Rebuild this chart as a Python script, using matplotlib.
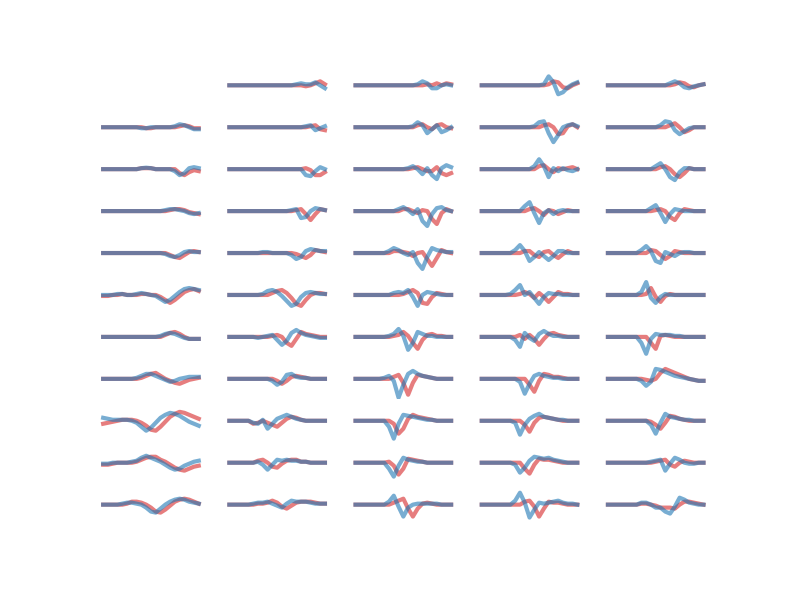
import numpy as np
import matplotlib
matplotlib.use("Agg")
import matplotlib.pyplot as plt

# sample positions along each trace
x = np.arange(21)

# traces per row, one entry per column (None = empty cell)
blue_r0 = [None,
           [0,0,0,0,0,0,0,0,0,0,0,0,0,0,1,2,1,1,3,0,-3],
           [0,0,0,0,0,0,0,0,0,0,0,0,0,1,4,2,-3,-3,0,1,0],
           [0,0,0,0,0,0,0,0,0,0,0,0,0,1,9,3,-9,-7,-2,1,3],
           [0,0,0,0,0,0,0,0,0,0,0,0,0,2,4,2,-2,-3,-1,0,1]]
red_r0 = [None,
          [0,0,0,0,0,0,0,0,0,0,0,0,0,0,0,0,-1,0,2,4,1],
          [0,0,0,0,0,0,0,0,0,0,0,0,0,0,0,1,0,2,0,2,1],
          [0,0,0,0,0,0,0,0,0,0,0,0,0,0,1,4,3,-2,-3,0,2],
          [0,0,0,0,0,0,0,0,0,0,0,0,0,0,1,3,2,-1,-2,0,1]]

blue_r1 = [[0,0,0,0,0,0,0,0,-1,-1,0,0,0,0,0,1,3,2,0,-2,-2],
           [0,0,0,0,0,0,0,0,0,0,0,0,0,0,0,0,1,2,-3,-1,1],
           [0,0,0,0,0,0,0,0,0,0,0,0,1,5,2,-6,-2,2,-5,-3,0],
           [0,0,0,0,0,0,0,0,0,0,0,1,5,6,-6,-15,-8,0,2,3,1],
           [0,0,0,0,0,0,0,0,0,0,0,2,6,5,-3,-7,-4,-1,0,0,0]]
red_r1 = [[0,0,0,0,0,0,0,0,0,-1,-1,0,0,0,0,0,1,2,1,-1,-1],
          [0,0,0,0,0,0,0,0,0,0,0,0,0,0,0,0,0,1,2,-2,-3],
          [0,0,0,0,0,0,0,0,0,0,0,0,0,2,3,0,-2,2,3,0,-1],
          [0,0,0,0,0,0,0,0,0,0,0,0,0,2,3,0,-7,-6,1,3,0],
          [0,0,0,0,0,0,0,0,0,0,0,0,0,2,4,0,-5,-3,0,0,0]]

blue_r2 = [[0,0,0,0,0,0,0,0,1,1.5,1,0,0,0,0,-2,-6,-4,1,2,1],
           [0,0,0,0,0,0,0,0,0,0,0,0,0,0,0,0,-6,-7,-2,2,0],
           [0,0,0,0,0,0,0,0,0,0,0,1,3,0,-5,1,-6,-10,1,4,2],
           [0,0,0,0,0,0,0,0,0,0,0,3,10,3,-8,1,-2,1,-1,-2,0],
           [0,0,0,0,0,0,0,0,0,0,3,6,0,-8,-11,-3,1,1,0,0,0]]
red_r2 = [[0,0,0,0,0,0,0,0,1,1,1,0,0,0,0,0,-4,-6,-3,-1,-2],
          [0,0,0,0,0,0,0,0,0,0,0,0,0,0,0,0,1,-1,-6,-6,-3],
          [0,0,0,0,0,0,0,0,0,0,0,0,1,2,0,-2,-2,2,-4,-6,-4],
          [0,0,0,0,0,0,0,0,0,0,0,0,3,4,0,-3,1,0,1,2,0],
          [0,0,0,0,0,0,0,0,0,0,0,2,3,0,-5,-8,-4,1,0,0,0]]

blue_r3 = [[0,0,0,0,0,0,0,0,0,0,0,0,0,1,2,2,1,0,-2,-3,-2],
           [0,0,0,0,0,0,0,0,0,0,0,0,0,1,2,-7,-6,0,3,2,1],
           [0,0,0,0,0,0,0,0,0,2,4,1,-3,2,-10,-15,-3,3,4,1,0],
           [0,0,0,0,0,0,0,0,0,5,9,-2,-12,-2,1,-3,0,1,0,0,0],
           [0,0,0,0,0,0,0,0,0,3,6,-2,-11,-3,2,1,0,0,0,0,0]]
red_r3 = [[0,0,0,0,0,0,0,0,0,0,0,0,0,0,1,2,2,1,-1,-2,-3],
          [0,0,0,0,0,0,0,0,0,0,0,0,0,0,1,2,-3,-9,-3,2,1],
          [0,0,0,0,0,0,0,0,0,0,2,2,0,-2,1,0,-8,-13,-2,2,0],
          [0,0,0,0,0,0,0,0,0,0,2,3,0,-4,1,0,-3,-1,1,0,0],
          [0,0,0,0,0,0,0,0,0,0,1,2,0,-6,-9,-2,2,1,0,0,0]]

blue_r4 = [[0,0,0,0,0,0,0,0,0,0,0,0,0,-1,-3,-4,-2,1,2,1,1],
           [0,0,0,0,0,0,0,1,1,0,0,0,0,-2,-6,-4,2,4,3,2,2],
           [0,0,0,0,0,0,0,2,5,3,0,-2,1,-10,-16,-4,5,3,2,1,1],
           [0,0,0,0,0,0,0,3,8,2,-8,-4,1,-3,-7,-3,2,2,0,0,0],
           [0,0,0,0,0,0,0,3,7,2,-8,-10,1,-1,-3,0,1,1,0,0,0]]
red_r4 = [[0,0,0,0,0,0,0,0,0,0,0,0,0,0,-2,-4,-5,-2,1,2,1],
          [0,0,0,0,0,0,0,0,0,0,0,0,0,0,-1,-3,-5,-2,3,2,1],
          [0,0,0,0,0,0,0,0,2,2,1,0,-3,0,1,-6,-13,-5,3,1,0],
          [0,0,0,0,0,0,0,0,0,2,2,-2,-4,1,2,-2,-5,-1,2,0,0],
          [0,0,0,0,0,0,0,0,0,3,2,-2,-6,-3,2,1,0,0,0,0,0]]

blue_r5 = [[0,0,0,1,1,0,0,1,2,1,0,-1,-4,-7,-5,-1,3,6,7,6,5],
           [0,0,0,0,0,0,0,1,4,5,3,-1,-6,-11,-9,-2,2,3,2,1,1],
           [0,0,0,0,0,0,0,0,2,3,2,5,-2,-11,0,3,2,1,0,0,0],
           [0,0,0,0,0,0,1,5,10,0,3,-3,-9,-2,2,1,1,0,0,0,0],
           [0,0,0,0,0,0,0,3,13,-3,-8,-2,1,0,0,0,0,0,0,0,0]]
red_r5 = [[-1,-1,0,0,1,0,0,0,1,1,0,0,-2,-5,-8,-5,-1,3,5,6,4],
          [0,0,0,0,0,0,0,0,0,2,4,5,2,-3,-9,-11,-5,0,2,2,1],
          [0,0,0,0,0,0,0,0,0,0,1,3,5,2,-8,-9,-2,2,1,0,0],
          [0,0,0,0,0,0,0,0,1,3,1,-3,2,-2,-7,-2,3,1,1,0,0],
          [0,0,0,0,0,0,0,0,1,7,-2,-7,-1,1,0,0,0,0,0,0,0]]

blue_r6 = [[0,0,0,0,0,0,0,0,0,0,0,0,1,3,4,3,1,-1,-2,-2,-2],
           [0,0,0,0,0,0,-1,0,1,2,-3,-8,-4,4,7,4,2,1,0,-1,-1],
           [0,0,0,0,0,0,0,1,3,8,1,-13,-6,5,3,1,1,0,0,0,0],
           [0,0,0,0,0,0,0,-3,-10,4,-1,-4,3,6,3,1,1,0,0,0,0],
           [0,0,0,0,0,0,0,-6,-17,-2,3,2,2,2,1,1,0,0,0,0,0]]
red_r6 = [[0,0,0,0,0,0,0,0,0,0,0,0,0,2,4,5,3,0,-2,-2,-2],
          [0,0,0,0,0,0,0,0,0,1,2,0,-6,-9,-2,5,3,2,1,0,0],
          [0,0,0,0,0,0,0,0,1,2,5,1,-6,-12,-3,2,3,1,1,0,0],
          [0,0,0,0,0,0,0,0,2,-2,2,-2,-8,-2,3,4,2,1,0,0,0],
          [0,0,0,0,0,0,0,0,0,-6,-12,1,2,1,0,0,0,0,0,0,0]]

blue_r7 = [[0,0,0,0,0,0,0,1,3,5,5,3,1,-1,-3,-2,0,1,2,2,2],
           [0,0,0,0,0,0,0,0,0,-2,-6,-3,4,5,2,1,1,0,0,0,0],
           [0,0,0,0,0,0,1,3,-2,-19,-6,5,8,5,3,2,1,0,0,0,0],
           [0,0,0,0,0,0,0,0,-3,-15,-5,3,5,3,2,1,1,0,0,0,0],
           [0,0,0,0,0,0,0,-2,-7,-3,10,9,7,5,3,2,1,0,-1,-2,-2]]
red_r7 = [[0,0,0,0,0,0,0,0,1,3,5,6,3,0,-2,-4,-5,-3,-1,0,1],
          [0,0,0,0,0,0,0,0,0,0,-2,-5,-2,2,3,2,1,0,0,0,0],
          [0,0,0,0,0,0,0,0,2,4,-4,-16,-4,4,3,2,1,0,0,0,0],
          [0,0,0,0,0,0,0,0,0,0,-6,-13,-2,5,4,2,2,1,0,0,0],
          [0,0,0,0,0,0,0,0,-1,-2,0,6,10,8,6,4,2,0,-1,-2,-2]]

blue_r8 = [[3,2,1,1,1,1,0,-2,-6,-10,-7,-2,3,6,8,7,5,2,-1,-3,-5],
           [0,0,0,0,0,-2,-3,1,-8,-3,2,4,6,4,2,1,0,0,0,0,0],
           [0,0,0,0,0,0,0,-6,-18,-3,6,5,4,3,2,1,1,0,0,0,0],
           [0,0,0,0,0,0,0,-2,-14,-4,2,5,7,4,3,2,1,1,0,0,0],
           [0,0,0,0,0,0,0,0,0,-4,-13,-2,7,4,3,2,1,1,0,0,0]]
red_r8 = [[-3,-2,-1,0,1,1,1,0,-2,-5,-9,-10,-6,-1,4,7,9,8,6,4,2],
          [0,0,0,0,0,-3,-2,0,-2,-4,-6,-2,2,4,3,1,0,0,0,0,0],
          [0,0,0,0,0,0,0,0,-3,-13,-8,2,6,4,3,2,1,0,0,0,0],
          [0,0,0,0,0,0,0,0,0,-4,-11,-2,3,4,3,2,1,0,0,0,0],
          [0,0,0,0,0,0,0,0,0,-1,-4,-8,-2,5,4,2,1,0,0,0,0]]

blue_r9 = [[-1,-1,0,0,0,0,1,2,5,7,5,3,1,-2,-5,-7,-6,-3,-1,1,2],
           [0,0,0,0,0,0,1,-2,-7,-2,3,2,3,2,2,1,1,0,0,0,0],
           [0,0,0,0,0,0,0,-6,-14,-3,5,3,2,1,1,0,0,0,0,0,0],
           [0,0,0,0,0,0,0,-2,-10,-5,2,6,5,4,5,3,2,1,0,0,0],
           [0,0,0,0,0,0,0,0,0,1,2,3,-8,-1,5,3,0,-1,-1,0,0]]
red_r9 = [[-2,-2,-1,0,0,0,0,1,3,5,6,6,3,1,-2,-5,-7,-8,-6,-4,-3],
          [0,0,0,0,0,0,2,3,0,-4,-5,-1,2,3,3,1,1,0,0,0,0],
          [0,0,0,0,0,0,0,1,-3,-12,-6,4,3,2,1,0,0,0,0,0,0],
          [0,0,0,0,0,0,0,0,0,-6,-11,-2,4,3,3,2,1,0,0,0,0],
          [0,0,0,0,0,0,0,0,0,0,1,2,3,-2,-4,0,2,1,0,0,0]]

blue_r10 = [[0,0,0,0,1,2,2,1,0,-3,-7,-8,-4,0,3,5,6,5,3,2,1],
            [0,0,0,0,0,1,2,2,3,1,-1,-3,1,4,3,3,3,2,1,1,1],
            [0,0,0,0,0,0,0,3,9,-2,-12,-3,0,1,1,1,1,1,0,0,0],
            [0,0,0,0,0,0,0,4,12,2,-13,-5,2,1,2,3,4,2,1,1,0],
            [0,0,0,0,0,0,0,2,2,0,-3,-3,-7,-9,-2,7,5,2,1,0,0]]
red_r10 = [[0,0,0,0,0,1,3,3,2,0,-3,-7,-8,-5,-1,3,5,6,5,3,1],
           [0,0,0,0,0,0,1,1,2,4,2,-2,-4,-1,2,3,3,3,2,1,1],
           [0,0,0,0,0,0,0,0,2,4,6,-4,-12,-4,1,2,1,0,0,0,0],
           [0,0,0,0,0,0,0,0,0,3,4,-2,-12,-4,3,2,2,1,0,0,0],
           [0,0,0,0,0,0,0,1,1,0,-1,-3,-3,-3,-4,0,3,3,2,1,0]]

blue_rows = [blue_r0, blue_r1, blue_r2, blue_r3, blue_r4, blue_r5,
             blue_r6, blue_r7, blue_r8, blue_r9, blue_r10]
red_rows = [red_r0, red_r1, red_r2, red_r3, red_r4, red_r5,
            red_r6, red_r7, red_r8, red_r9, red_r10]

fig, axes = plt.subplots(11, 5, figsize=(7.87, 5.9), dpi=100,
                         sharex=True, sharey=True)

for r in range(11):
    for c in range(5):
        ax = axes[r, c]
        ax.axis('off')
        if red_rows[r][c] is None:
            continue
        ax.plot(x, red_rows[r][c], color='C3', lw=3, alpha=0.6,
                solid_joinstyle='round')
        ax.plot(x, blue_rows[r][c], color='C0', lw=3, alpha=0.6,
                solid_joinstyle='round')

fig.savefig('out.png', dpi=100)
